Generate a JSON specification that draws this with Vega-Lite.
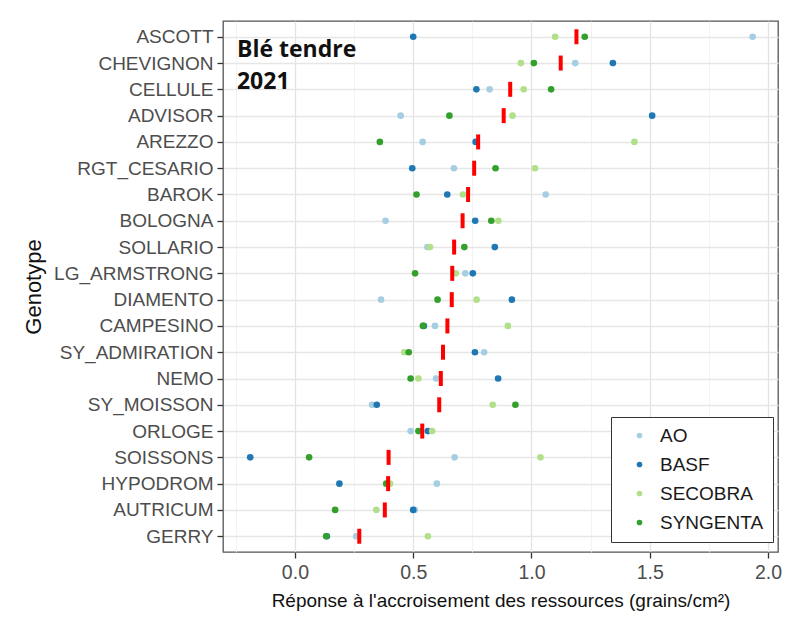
{
  "$schema": "https://vega.github.io/schema/vega-lite/v6.json",
  "width": 555,
  "height": 531,
  "autosize": {"type": "none"},
  "padding": {"left": 223, "top": 21, "right": 17, "bottom": 82},
  "background": "white",
  "config": {
    "view": {"stroke": "#555555", "strokeWidth": 1.3, "fill": "white"},
    "font": "Liberation Sans"
  },
  "data": {
    "values": [
      {"g": "ASCOTT", "company": "AO", "v": 1.935},
      {"g": "ASCOTT", "company": "BASF", "v": 0.50},
      {"g": "ASCOTT", "company": "SECOBRA", "v": 1.10},
      {"g": "ASCOTT", "company": "SYNGENTA", "v": 1.225},
      {"g": "CHEVIGNON", "company": "AO", "v": 1.185},
      {"g": "CHEVIGNON", "company": "BASF", "v": 1.344},
      {"g": "CHEVIGNON", "company": "SECOBRA", "v": 0.955},
      {"g": "CHEVIGNON", "company": "SYNGENTA", "v": 1.01},
      {"g": "CELLULE", "company": "AO", "v": 0.823},
      {"g": "CELLULE", "company": "BASF", "v": 0.767},
      {"g": "CELLULE", "company": "SECOBRA", "v": 0.967},
      {"g": "CELLULE", "company": "SYNGENTA", "v": 1.083},
      {"g": "ADVISOR", "company": "AO", "v": 0.447},
      {"g": "ADVISOR", "company": "BASF", "v": 1.51},
      {"g": "ADVISOR", "company": "SECOBRA", "v": 0.92},
      {"g": "ADVISOR", "company": "SYNGENTA", "v": 0.653},
      {"g": "AREZZO", "company": "AO", "v": 0.54},
      {"g": "AREZZO", "company": "BASF", "v": 0.764},
      {"g": "AREZZO", "company": "SECOBRA", "v": 1.435},
      {"g": "AREZZO", "company": "SYNGENTA", "v": 0.359},
      {"g": "RGT_CESARIO", "company": "AO", "v": 0.672},
      {"g": "RGT_CESARIO", "company": "BASF", "v": 0.496},
      {"g": "RGT_CESARIO", "company": "SECOBRA", "v": 1.015},
      {"g": "RGT_CESARIO", "company": "SYNGENTA", "v": 0.848},
      {"g": "BAROK", "company": "AO", "v": 1.06},
      {"g": "BAROK", "company": "BASF", "v": 0.644},
      {"g": "BAROK", "company": "SECOBRA", "v": 0.71},
      {"g": "BAROK", "company": "SYNGENTA", "v": 0.514},
      {"g": "BOLOGNA", "company": "AO", "v": 0.383},
      {"g": "BOLOGNA", "company": "BASF", "v": 0.762},
      {"g": "BOLOGNA", "company": "SECOBRA", "v": 0.86},
      {"g": "BOLOGNA", "company": "SYNGENTA", "v": 0.83},
      {"g": "SOLLARIO", "company": "AO", "v": 0.56},
      {"g": "SOLLARIO", "company": "BASF", "v": 0.845},
      {"g": "SOLLARIO", "company": "SECOBRA", "v": 0.571},
      {"g": "SOLLARIO", "company": "SYNGENTA", "v": 0.716},
      {"g": "LG_ARMSTRONG", "company": "AO", "v": 0.72},
      {"g": "LG_ARMSTRONG", "company": "BASF", "v": 0.752},
      {"g": "LG_ARMSTRONG", "company": "SECOBRA", "v": 0.68},
      {"g": "LG_ARMSTRONG", "company": "SYNGENTA", "v": 0.508},
      {"g": "DIAMENTO", "company": "AO", "v": 0.364},
      {"g": "DIAMENTO", "company": "BASF", "v": 0.917},
      {"g": "DIAMENTO", "company": "SECOBRA", "v": 0.768},
      {"g": "DIAMENTO", "company": "SYNGENTA", "v": 0.603},
      {"g": "CAMPESINO", "company": "AO", "v": 0.592},
      {"g": "CAMPESINO", "company": "BASF", "v": 0.545},
      {"g": "CAMPESINO", "company": "SECOBRA", "v": 0.90},
      {"g": "CAMPESINO", "company": "SYNGENTA", "v": 0.541},
      {"g": "SY_ADMIRATION", "company": "AO", "v": 0.80},
      {"g": "SY_ADMIRATION", "company": "BASF", "v": 0.761},
      {"g": "SY_ADMIRATION", "company": "SECOBRA", "v": 0.462},
      {"g": "SY_ADMIRATION", "company": "SYNGENTA", "v": 0.481},
      {"g": "NEMO", "company": "AO", "v": 0.597},
      {"g": "NEMO", "company": "BASF", "v": 0.859},
      {"g": "NEMO", "company": "SECOBRA", "v": 0.522},
      {"g": "NEMO", "company": "SYNGENTA", "v": 0.489},
      {"g": "SY_MOISSON", "company": "AO", "v": 0.326},
      {"g": "SY_MOISSON", "company": "BASF", "v": 0.346},
      {"g": "SY_MOISSON", "company": "SECOBRA", "v": 0.836},
      {"g": "SY_MOISSON", "company": "SYNGENTA", "v": 0.932},
      {"g": "ORLOGE", "company": "AO", "v": 0.489},
      {"g": "ORLOGE", "company": "BASF", "v": 0.562},
      {"g": "ORLOGE", "company": "SECOBRA", "v": 0.58},
      {"g": "ORLOGE", "company": "SYNGENTA", "v": 0.522},
      {"g": "SOISSONS", "company": "AO", "v": 0.675},
      {"g": "SOISSONS", "company": "BASF", "v": -0.189},
      {"g": "SOISSONS", "company": "SECOBRA", "v": 1.038},
      {"g": "SOISSONS", "company": "SYNGENTA", "v": 0.06},
      {"g": "HYPODROM", "company": "AO", "v": 0.60},
      {"g": "HYPODROM", "company": "BASF", "v": 0.188},
      {"g": "HYPODROM", "company": "SECOBRA", "v": 0.402},
      {"g": "HYPODROM", "company": "SYNGENTA", "v": 0.386},
      {"g": "AUTRICUM", "company": "AO", "v": 0.506},
      {"g": "AUTRICUM", "company": "BASF", "v": 0.50},
      {"g": "AUTRICUM", "company": "SECOBRA", "v": 0.344},
      {"g": "AUTRICUM", "company": "SYNGENTA", "v": 0.17},
      {"g": "GERRY", "company": "AO", "v": 0.259},
      {"g": "GERRY", "company": "BASF", "v": 0.135},
      {"g": "GERRY", "company": "SECOBRA", "v": 0.562},
      {"g": "GERRY", "company": "SYNGENTA", "v": 0.132}
    ]
  },
  "layer": [
    {
      "mark": {"type": "circle", "size": 44, "opacity": 1},
      "encoding": {
        "x": {
          "field": "v",
          "type": "quantitative",
          "title": "Réponse à l'accroisement des ressources (grains/cm²)",
          "scale": {"domain": [-0.304, 2.042], "nice": false, "zero": false},
          "axis": {
            "values": [-0.25, 0, 0.25, 0.5, 0.75, 1, 1.25, 1.5, 1.75, 2],
            "labelExpr": "datum.value % 0.5 == 0 ? format(datum.value, '.1f') : ''",
            "grid": true,
            "gridColor": {"condition": {"test": "datum.value % 0.5 == 0", "value": "#e3e3e3"}, "value": "#f0f0f0"},
            "gridWidth": {"condition": {"test": "datum.value % 0.5 == 0", "value": 1.3}, "value": 0.8},
            "tickOpacity": {"condition": {"test": "datum.value % 0.5 == 0", "value": 1}, "value": 0},
            "tickColor": "#333333",
            "tickSize": 6,
            "tickWidth": 1.3,
            "domain": false,
            "labelFontSize": 19.5,
            "labelColor": "#4d4d4d",
            "labelPadding": 5,
            "titleFontSize": 19,
            "titleFontWeight": "normal",
            "titleColor": "#111111",
            "titlePadding": 10
          }
        },
        "y": {
          "field": "g",
          "type": "nominal",
          "title": "Genotype",
          "sort": ["ASCOTT", "CHEVIGNON", "CELLULE", "ADVISOR", "AREZZO", "RGT_CESARIO", "BAROK", "BOLOGNA", "SOLLARIO", "LG_ARMSTRONG", "DIAMENTO", "CAMPESINO", "SY_ADMIRATION", "NEMO", "SY_MOISSON", "ORLOGE", "SOISSONS", "HYPODROM", "AUTRICUM", "GERRY"],
          "scale": {"type": "point", "padding": 0.6},
          "axis": {
            "grid": true,
            "gridColor": "#e6e6e6",
            "gridWidth": 1.3,
            "tickColor": "#333333",
            "tickSize": 6,
            "tickWidth": 1.3,
            "domain": false,
            "labelFontSize": 19,
            "labelColor": "#4d4d4d",
            "labelPadding": 4,
            "titleFontSize": 22,
            "titleFontWeight": "normal",
            "titleColor": "#111111",
            "titlePadding": 8
          }
        },
        "color": {
          "field": "company",
          "type": "nominal",
          "scale": {"domain": ["AO", "BASF", "SECOBRA", "SYNGENTA"], "range": ["#a6cee3", "#1f78b4", "#b2df8a", "#33a02c"]},
          "legend": {
            "title": null,
            "orient": "none",
            "legendX": 388,
            "legendY": 396,
            "strokeColor": "#333333",
            "fillColor": "white",
            "padding": 9,
            "symbolType": "circle",
            "symbolSize": 32,
            "symbolOffset": 10,
            "labelFontSize": 19,
            "labelColor": "#1a1a1a",
            "labelOffset": 11,
            "rowPadding": 9
          }
        }
      }
    },
    {
      "mark": {"type": "tick", "color": "#ff0000", "thickness": 4, "size": 15},
      "encoding": {
        "x": {"aggregate": "mean", "field": "v", "type": "quantitative"},
        "y": {"field": "g", "type": "nominal", "sort": ["ASCOTT", "CHEVIGNON", "CELLULE", "ADVISOR", "AREZZO", "RGT_CESARIO", "BAROK", "BOLOGNA", "SOLLARIO", "LG_ARMSTRONG", "DIAMENTO", "CAMPESINO", "SY_ADMIRATION", "NEMO", "SY_MOISSON", "ORLOGE", "SOISSONS", "HYPODROM", "AUTRICUM", "GERRY"]}
      }
    },
    {
      "data": {"values": [{}]},
      "mark": {"type": "text", "text": ["Blé tendre", "2021"], "font": "Open Sans", "fontWeight": "bold", "fontSize": 23, "align": "left", "baseline": "alphabetic", "lineHeight": 32, "dy": 20, "color": "#111111"},
      "encoding": {
        "x": {"datum": -0.245, "type": "quantitative"},
        "y": {"datum": "ASCOTT", "type": "nominal"}
      }
    }
  ]
}
